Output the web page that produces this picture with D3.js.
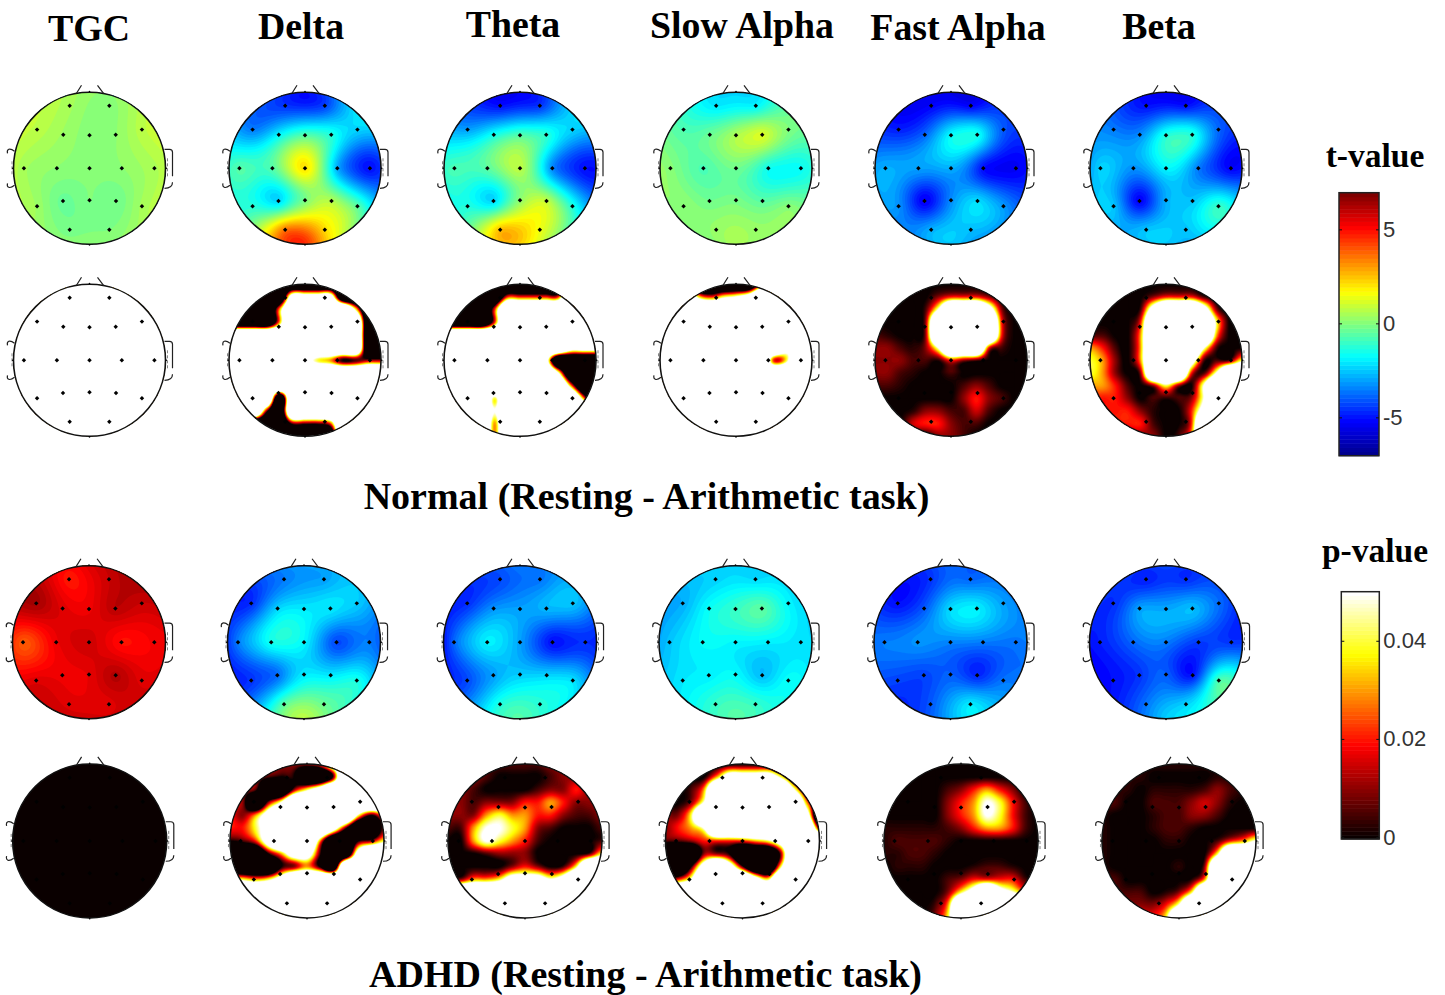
<!DOCTYPE html>
<html><head><meta charset="utf-8">
<script src="https://cdn.jsdelivr.net/npm/d3@7"></script>
<style>html,body{margin:0;padding:0;background:#fff}svg{display:block}</style>
</head><body><svg id="c" width="1445" height="995" viewBox="0 0 1445 995"></svg>
<script>
// ---------- categories / labels ----------
const bands = ["TGC","Delta","Theta","Slow Alpha","Fast Alpha","Beta"];
const groupTitles = ["Normal (Resting - Arithmetic task)","ADHD (Resting - Arithmetic task)"];
const tTicks = [-5,0,5];
const pTicks = [0,0.02,0.04];
const electrodes = ["Fp1","Fp2","F7","F3","Fz","F4","F8","T3","C3","Cz","C4","T4","T5","P3","Pz","P4","T6","O1","O2","Nz","A1","A2","Iz"];

// ---------- t-values at the electrodes (order as in `electrodes`) ----------
const tNormalTGC   = [0.5,0.1,0.8,0.4,0.1,0.2,0.8,0.5,0.2,0.1,0.2,0.6,0.4,-0.3,0,-0.2,0.5,-0.1,0,0.3,0.8,0.8,0.2];
const tNormalDelta = [-4.5,-4.3,-3.5,-1.8,-0.6,-1.3,-2.3,-0.6,-0.6,2.1,-2.8,-5,-1.2,-2.2,-0.1,0.7,-0.5,3.6,2.2,-5,-1,-4.5,4.6];
const tNormalTheta = [-5,-4.5,-3,-1.5,-0.6,-1.2,-2.3,-0.8,-0.5,0.8,-3.3,-5,-1.3,-2.2,0.2,0.9,-1.3,2.6,1.5,-5.2,-1,-5,2.3];
const tNormalSlow  = [-2,-1.8,-0.7,-0.3,0.6,1.2,0,0.1,-0.7,-0.2,-1.5,-1.6,0.2,-0.2,-0.1,-0.5,0.1,0.3,0.3,-2.2,0.3,-1.2,0.5];
const tNormalFast  = [-5.2,-5.2,-4.8,-3.8,-1.7,-1.5,-4,-2.8,-3,-2.8,-5,-5.3,-3.2,-5.3,-3.3,-2.2,-3.1,-2.8,-2.6,-5.5,-3,-5,-2.5];
const tNormalBeta  = [-5,-5,-3.5,-3.3,-1.3,-1.3,-3.8,-2.3,-3.2,-1.8,-3.5,-5.2,-2.5,-5.2,-2.8,-2.5,-1,-2.5,-2.5,-5.4,-3,-5,-2.5];
const tAdhdTGC     = [4.9,5.9,6.4,5.6,5.4,6.1,5.9,4,5.4,5.8,5,5.3,5.6,5.4,5.5,6.2,5.6,5.6,5.6,5.6,4.6,5.4,5.8];
const tAdhdDelta   = [-3.5,-3,-4.6,-2.3,-2,-2,-2.4,-3.5,-1.5,-1.8,-4.2,-3.5,-4.5,-3.7,-2,-2,-1.4,-0.5,-0.3,-3,-4.5,-4,0.8];
const tAdhdTheta   = [-4.2,-3.6,-4.6,-3.2,-3,-2.7,-2.5,-3.8,-1.9,-3,-5,-4.6,-4.2,-3,-2.4,-2.3,-2.1,-1.3,-1.2,-3.5,-5,-4.7,-0.6];
const tAdhdSlow    = [-2.3,-2.2,-2.8,-1.6,-1,-0.5,-1.8,-2.5,-1.7,-1.8,-1.9,-2.1,-2,-1.9,-1.7,-2.6,-1.6,-1,-1,-2.2,-2.9,-2.2,-0.6];
const tAdhdFast    = [-4.5,-3.8,-5,-4,-2.2,-1.9,-3,-3.5,-3.2,-3.4,-3.5,-3.6,-4.3,-4.3,-3.9,-4.7,-3.6,-4,-2,-3.8,-3.6,-3.5,-2.8];
const tAdhdBeta    = [-4.8,-4.6,-4.6,-3,-2.9,-2.6,-3.7,-4.8,-3.8,-3.5,-4.4,-4.5,-5,-4.5,-3.9,-4.9,-0.7,-3.6,-2.3,-4.2,-5,-4.5,-2.4];

// each character is a base-36 index into pLevels (7 = the 0.05 ceiling, 0 and 8/9 lie beyond the colour range)
const pLevels = [-0.05,0,0.005,0.01,0.02,0.03,0.04,0.05,0.07,0.12,0.0025,0.0075,0.015];
const pNormalTGC = ["9999999999999","9999999999999","9999999999999","9999999999999","9999999999999","9999999999999","9999999999999","9999999999999","9999999999999","9999999999999","9999999999999","9999999999999","9999999999999"];
const pNormalDelta = ["0000000000000","0000088880000","0000599999600","0000599999900","9999999999900","9999999999900","9999998651233","9999999999999","9999999999999","9999099999999","9992099999999","0000022249999","0000000009999"];
const pNormalTheta = ["0000000000000","0000044444999","0000499999999","0000499999999","9999999999999","9999999999888","9999999980000","9999999997000","9999999999500","9999699999950","9999799999999","9999599999999","9999599999999"];
const pNormalSlow = ["7770000059999","9996467899999","9999999999999","9999999999999","9999999999999","9999999999888","9999999994699","9999999999999","9999999999999","9999999999999","9999999999999","9999999999999","9999999999999"];
const pNormalFast = ["1111111111111","1111134443111","1111279998311","1111399999411","2a11399999411","332a379994211","33322a4321111","332a112111111","22a1111232111","1111111343211","111a3322c2111","111c443221111","1111133211111"];
const pNormalBeta = ["1111111111111","1111134442111","1111289998311","1111499999611","2211599999511","5421599997211","6531599982226","6531399942799","5542136317999","444312a237999","44443a1148999","4444421149999","3333331259999"];
const pAdhdTGC = ["1111111111111","1111111111111","1111111111111","1111111111111","1111111111111","1111111111111","1111111111111","1111111111111","1111111111111","1111111111111","1111111111111","1111111111111","1111111111111"];
const pAdhdDelta = ["3333333489999","3332110019999","3320036899999","3303799999999","4358999999615","4468999982003","1248999500136","0001588200899","0000135109999","7656899999999","9999999999999","9999999999999","9999999999999"];
const pAdhdTheta = ["2222222233333","3332111123333","3321111233433","3323334454333","3335655443223","2257765321112","1157654211112","1112333111126","1111134312699","3355688878999","9999999999999","9999999999999","9999999999999"];
const pAdhdSlow = ["1111111112599","1111588886211","1125999999711","1137999999951","3369999999980","3457999999993","2234444568999","0003310003999","0018982006999","3479999869999","9999999999999","9999999999999","9999999999999"];
const pAdhdFast = ["1111111111111","1111111111111","1111123454311","1111134576421","1111134576421","aaaaa23455421","a2222a1111111","aa22a11111111","1aaa111a22a11","1111123444421","1111136898755","1111259999999","1111369999999"];
const pAdhdBeta = ["aaaaaaaaaaaaa","aaaa11111aaaa","aaa1aaaa232aa","22112223c3a11","a111a22332111","a111a22a11111","a1111aa112457","a111111116999","a11111a139999","2211111a59999","22221a3699999","3333347999999","4444469999999"];

const tMaps = [[tNormalTGC,tNormalDelta,tNormalTheta,tNormalSlow,tNormalFast,tNormalBeta],
               [tAdhdTGC,tAdhdDelta,tAdhdTheta,tAdhdSlow,tAdhdFast,tAdhdBeta]];
const pMaps = [[pNormalTGC,pNormalDelta,pNormalTheta,pNormalSlow,pNormalFast,pNormalBeta],
               [pAdhdTGC,pAdhdDelta,pAdhdTheta,pAdhdSlow,pAdhdFast,pAdhdBeta]];

// ---------- layout (not data) ----------
const rows = [
 {cy:168.3,r:76,cx:[89.5,305,520,736,951,1166]},
 {cy:360.3,r:76,cx:[89.5,305,520,736,951,1166]},
 {cy:642.3,r:76.5,cx:[89,304,520,735.5,950.5,1166]},
 {cy:841,r:77,cx:[89.7,307,525,742.5,961,1179]}];
const elecPos = [[-.261,-.823],[.261,-.823],[-.69,-.509],[-.345,-.442],[0,-.434],[.345,-.442],[.69,-.509],
 [-.863,0],[-.429,0],[0,0],[.425,0],[.854,0],[-.69,.5],[-.349,.43],[0,.42],[.349,.43],[.69,.5],[-.261,.81],[.261,.81],
 [0,-1.01],[-1.01,0],[1.01,0],[0,1.01]];
const titleLayout = [[89,41],[301,39],[513,37],[742,38],[958,40],[1159,39]];

// ---------- colour scales ----------
const jetScale = d3.scaleLinear().domain([0,1/8,3/8,5/8,7/8,1])
  .range(["rgb(0,0,143)","rgb(0,0,255)","rgb(0,255,255)","rgb(255,255,0)","rgb(255,0,0)","rgb(128,0,0)"]).clamp(true);
const hotScale = d3.scaleLinear().domain([0,3/8,3/4,1])
  .range(["rgb(10,0,0)","rgb(255,0,0)","rgb(255,255,0)","rgb(255,255,255)"]).clamp(true);
const tNorm = d3.scaleLinear().domain([-7,7]).range([0,1]);
const pNorm = d3.scaleLinear().domain([0,0.05]).range([0,1]);
const nLevels = 64;
const tThresholds = d3.range(nLevels).map(i=>tNorm.invert(i/nLevels));
const pThresholds = d3.range(nLevels).map(i=>pNorm.invert(i/nLevels));

// ---------- field construction ----------
const N = 150, EXT = 1.04;
const gridCoord = d3.scaleLinear().domain([0,N-1]).range([-EXT,EXT]);

function solve(A,b){
  const n=b.length, M=A.map((r,i)=>[...r,b[i]]);
  for(let c=0;c<n;c++){
    let p=c; for(let r=c+1;r<n;r++) if(Math.abs(M[r][c])>Math.abs(M[p][c])) p=r;
    [M[c],M[p]]=[M[p],M[c]];
    for(let r=c+1;r<n;r++){const f=M[r][c]/M[c][c]; for(let k=c;k<=n;k++) M[r][k]-=f*M[c][k];}
  }
  const x=new Array(n).fill(0);
  for(let r=n-1;r>=0;r--){let s=M[r][n]; for(let k=r+1;k<n;k++) s-=M[r][k]*x[k]; x[r]=s/M[r][r];}
  return x;
}
const green = d=> d<1e-9?0:d*d*(Math.log(d)-1);
const G = elecPos.map(a=>elecPos.map(b=>green(Math.hypot(a[0]-b[0],a[1]-b[1]))));
function tField(vals){
  const w=solve(G,vals), out=new Float64Array(N*N);
  for(let j=0;j<N;j++){const y=gridCoord(j);
    for(let i=0;i<N;i++){const x=gridCoord(i); let s=0;
      for(let k=0;k<w.length;k++) s+=w[k]*green(Math.hypot(x-elecPos[k][0],y-elecPos[k][1]));
      out[j*N+i]=s;}}
  return out;
}
function cr(a,b,c,d,t){return b+0.5*t*(c-a+t*(2*a-5*b+4*c-d+t*(3*(b-c)+d-a)));}
function pField(rowsStr){
  const g=rowsStr.map(r=>r.split("").map(ch=>pLevels[parseInt(ch,36)]));
  const at=(j,i)=>g[Math.max(0,Math.min(12,j))][Math.max(0,Math.min(12,i))];
  const out=new Float64Array(N*N);
  for(let j=0;j<N;j++){const gy=(gridCoord(j)+1)*6, j0=Math.floor(gy), ty=gy-j0;
    for(let i=0;i<N;i++){const gx=(gridCoord(i)+1)*6, i0=Math.floor(gx), tx=gx-i0;
      const v=[-1,0,1,2].map(dj=>cr(at(j0+dj,i0-1),at(j0+dj,i0),at(j0+dj,i0+1),at(j0+dj,i0+2),tx));
      out[j*N+i]=cr(v[0],v[1],v[2],v[3],ty);}}
  return out;
}

// ---------- drawing ----------
const svg=d3.select("#c");
const defs=svg.append("defs");
const contourGen=d3.contours().size([N,N]).smooth(true);

function drawHead(row,col,rowIdx,field,thresholds,colorOf){
  const cx=row.cx[col], cy=row.cy, r=row.r;
  const id=`clip${rowIdx}_${col}`;
  defs.append("clipPath").attr("id",id).append("circle").attr("cx",cx).attr("cy",cy).attr("r",r);
  const g=svg.append("g").attr("class","head");
  const k=2*EXT*r/(N-1), ox=cx-EXT*r-0.5*k, oy=cy-EXT*r-0.5*k;
  const proj=d3.geoTransform({point(x,y){this.stream.point(ox+k*x,oy+k*y);}});
  const path=d3.geoPath(proj);
  const m=g.append("g").attr("clip-path",`url(#${id})`);
  m.append("circle").attr("cx",cx).attr("cy",cy).attr("r",r).attr("fill",colorOf(0));
  m.selectAll("path").data(contourGen.thresholds(thresholds)(field)).join("path")
    .attr("d",path).attr("fill",(d,i)=>colorOf(i)).attr("stroke","none");
  g.append("circle").attr("cx",cx).attr("cy",cy).attr("r",r).attr("fill","none").attr("stroke","#111").attr("stroke-width",1.6);
  // nose & ears
  const s=r/76, t=`translate(${cx},${cy}) scale(${s})`;
  g.append("path").attr("transform",t).attr("fill","none").attr("stroke","#222").attr("stroke-width",1.2)
    .attr("d","M-13,-75L-8,-83M8,-83L14,-75 M-75,-17C-80,-21 -83,-19 -82,-15 M-82,15C-83,19 -80,21 -75,17 M75,-19L80,-19Q83,-19 83,-16L83,8 M83,14Q83,20 75,20");
  g.append("path").attr("transform",t).attr("fill","none").attr("stroke","#666").attr("stroke-width",.8)
    .attr("stroke-dasharray","3 2").attr("d","M78,-10L78,8 M-77.5,-7L-77.5,7");
  // electrodes (the four outermost are the small rim marks)
  const sym=d3.symbol().type(d3.symbolSquare).size(10)();
  g.selectAll("path.e").data(elecPos.slice(0,19)).join("path").attr("class","e").attr("d",sym)
    .attr("transform",d=>`translate(${cx+d[0]*r},${cy+d[1]*r}) rotate(45)`).attr("fill","#000");
  g.selectAll("circle.rim").data(elecPos.slice(19)).join("circle").attr("class","rim")
    .attr("cx",d=>cx+d[0]*r).attr("cy",d=>cy+d[1]*r).attr("r",.8).attr("fill","#000");
}

const tColor=i=>jetScale(i/(nLevels-1));
const pColor=i=>hotScale(i/(nLevels-1));
[0,1].forEach(gi=>{
  bands.forEach((b,c)=>{
    drawHead(rows[gi*2],c,gi*2,tField(tMaps[gi][c]),tThresholds,tColor);
    drawHead(rows[gi*2+1],c,gi*2+1,pField(pMaps[gi][c]),pThresholds,pColor);
  });
});

// ---------- titles ----------
const serif="'Liberation Serif','Times New Roman',serif";
svg.selectAll("text.band").data(bands).join("text").attr("class","band")
  .attr("x",(d,i)=>titleLayout[i][0]).attr("y",(d,i)=>titleLayout[i][1])
  .attr("text-anchor","middle").attr("font-family",serif).attr("font-weight","bold").attr("font-size",37.8).attr("fill","#000").text(d=>d);
svg.selectAll("text.group").data(groupTitles).join("text").attr("class","group")
  .attr("x",(d,i)=>[646.5,645.5][i]).attr("y",(d,i)=>[509,987][i])
  .attr("text-anchor","middle").attr("font-family",serif).attr("font-weight","bold").attr("font-size",38).attr("fill","#000").text(d=>d);
[["t-value",1375,167],["p-value",1375,562]].forEach(([t,x,y])=>{
  svg.append("text").attr("x",x).attr("y",y).attr("text-anchor","middle").attr("font-family",serif)
    .attr("font-weight","bold").attr("font-size",33.5).attr("fill","#000").text(t);
});

// ---------- colour bars ----------
function colorbar(x0,x1,yScale,levels,colorOf,ticks,fmt){
  const g=svg.append("g");
  const d=yScale.domain(), st=(d[1]-d[0])/levels;
  g.selectAll("rect").data(d3.range(levels)).join("rect")
    .attr("x",x0).attr("width",x1-x0)
    .attr("y",i=>yScale(d[0]+(i+1)*st)).attr("height",i=>yScale(d[0]+i*st)-yScale(d[0]+(i+1)*st)+.5)
    .attr("fill",i=>colorOf(i));
  g.append("rect").attr("x",x0).attr("y",yScale(d[1])).attr("width",x1-x0).attr("height",yScale(d[0])-yScale(d[1]))
    .attr("fill","none").attr("stroke","#222").attr("stroke-width",1.5);
  const right=g.append("g").attr("transform",`translate(${x1},0)`)
    .call(d3.axisRight(yScale).tickValues(ticks).tickFormat(fmt).tickSizeInner(-3).tickSizeOuter(0).tickPadding(7));
  right.select(".domain").remove();
  right.selectAll("text").attr("font-family","'Liberation Sans',Arial,sans-serif").attr("font-size",22).attr("fill","#333").attr("x",4);
  right.selectAll("line").attr("stroke","#111");
  const left=g.append("g").attr("transform",`translate(${x0},0)`)
    .call(d3.axisLeft(yScale).tickValues(ticks).tickFormat("").tickSizeInner(-3).tickSizeOuter(0));
  left.select(".domain").remove();
  left.selectAll("line").attr("stroke","#111");
}
colorbar(1339,1379,d3.scaleLinear().domain([-7.04,6.95]).range([455.7,192.7]),64,tColor,tTicks,d=>String(d));
colorbar(1341.3,1379.3,d3.scaleLinear().domain([-0.0004,0.05]).range([839,591.7]),64,pColor,pTicks,d=>d===0?"0":d3.format(".2f")(d));
</script></body></html>
